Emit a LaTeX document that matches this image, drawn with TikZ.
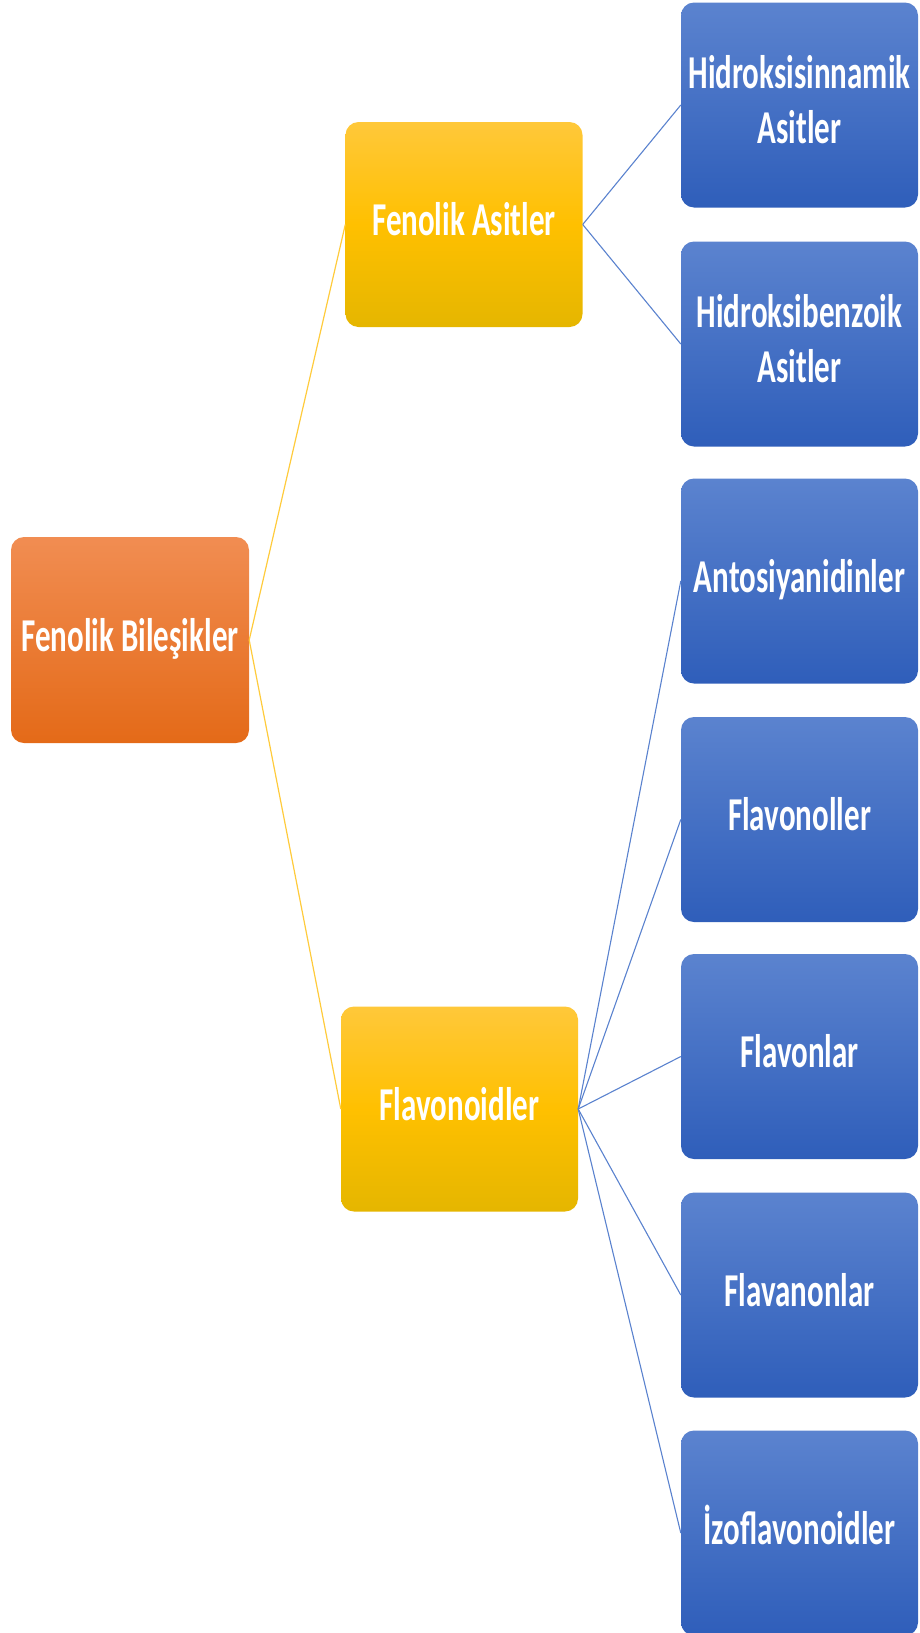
\documentclass[tikz,border=0pt]{standalone}
\usepackage{fontspec}
\setmainfont{Carlito}
\usepackage{graphicx}
\definecolor{orTop}{HTML}{F18D52}
\definecolor{orBot}{HTML}{E46A18}
\definecolor{yeTop}{HTML}{FFC83A}
\definecolor{yeMid}{HTML}{FFC000}
\definecolor{yeBot}{HTML}{E5B600}
\definecolor{blTop}{HTML}{5B83CF}
\definecolor{blBot}{HTML}{2F5EBA}
\definecolor{goldLine}{HTML}{FFCB3C}
\definecolor{blueLine}{HTML}{5A82CE}
\newcommand{\vtxt}[1]{\scalebox{1}[1.52]{\begin{tabular}{@{}c@{}}#1\end{tabular}}}
\tikzset{
  boxbase/.style={rectangle, rounded corners=13pt, inner sep=0pt,
    minimum width=237pt, minimum height=205pt, text=white,
    font=\fontsize{31}{36.5}\selectfont\bfseries, align=center},
  rootbox/.style={boxbase, minimum width=238pt, minimum height=206pt,
    top color=orTop, bottom color=orBot},
  midbox/.style={boxbase, top color=yeTop, bottom color=yeBot, middle color=yeMid},
  leafbox/.style={boxbase, top color=blTop, bottom color=blBot},
  goldlink/.style={draw=goldLine, line width=1.2pt},
  bluelink/.style={draw=blueLine, line width=1.1pt}
}
\begin{document}
\begin{tikzpicture}[x=1pt,y=-1pt]
\useasboundingbox (0,0) rectangle (920,1633);
\node[rootbox] (root) at (130,640) {\vtxt{Fenolik Bileşikler}};
\node[midbox] (fa) at (464,224.5) {\vtxt{Fenolik Asitler}};
\node[midbox] (fl) at (459.5,1109) {\vtxt{Flavonoidler}};
\node[leafbox] (hs) at (799.5,105) {\vtxt{Hidroksisinnamik\\Asitler}};
\node[leafbox] (hb) at (799.5,344) {\vtxt{Hidroksibenzoik\\Asitler}};
\node[leafbox] (an) at (799.5,581) {\vtxt{Antosiyanidinler}};
\node[leafbox] (fo) at (799.5,819.5) {\vtxt{Flavonoller}};
\node[leafbox] (fn) at (799.5,1056.5) {\vtxt{Flavonlar}};
\node[leafbox] (fv) at (799.5,1295) {\vtxt{Flavanonlar}};
\node[leafbox] (iz) at (799.5,1533) {\vtxt{İzoflavonoidler}};
\draw[goldlink] (root.east) -- (fa.west);
\draw[goldlink] (root.east) -- (fl.west);
\draw[bluelink] (fa.east) -- (hs.west);
\draw[bluelink] (fa.east) -- (hb.west);
\foreach \t in {an,fo,fn,fv,iz}{
  \draw[bluelink] (fl.east) -- (\t.west);
}
\end{tikzpicture}
\end{document}
